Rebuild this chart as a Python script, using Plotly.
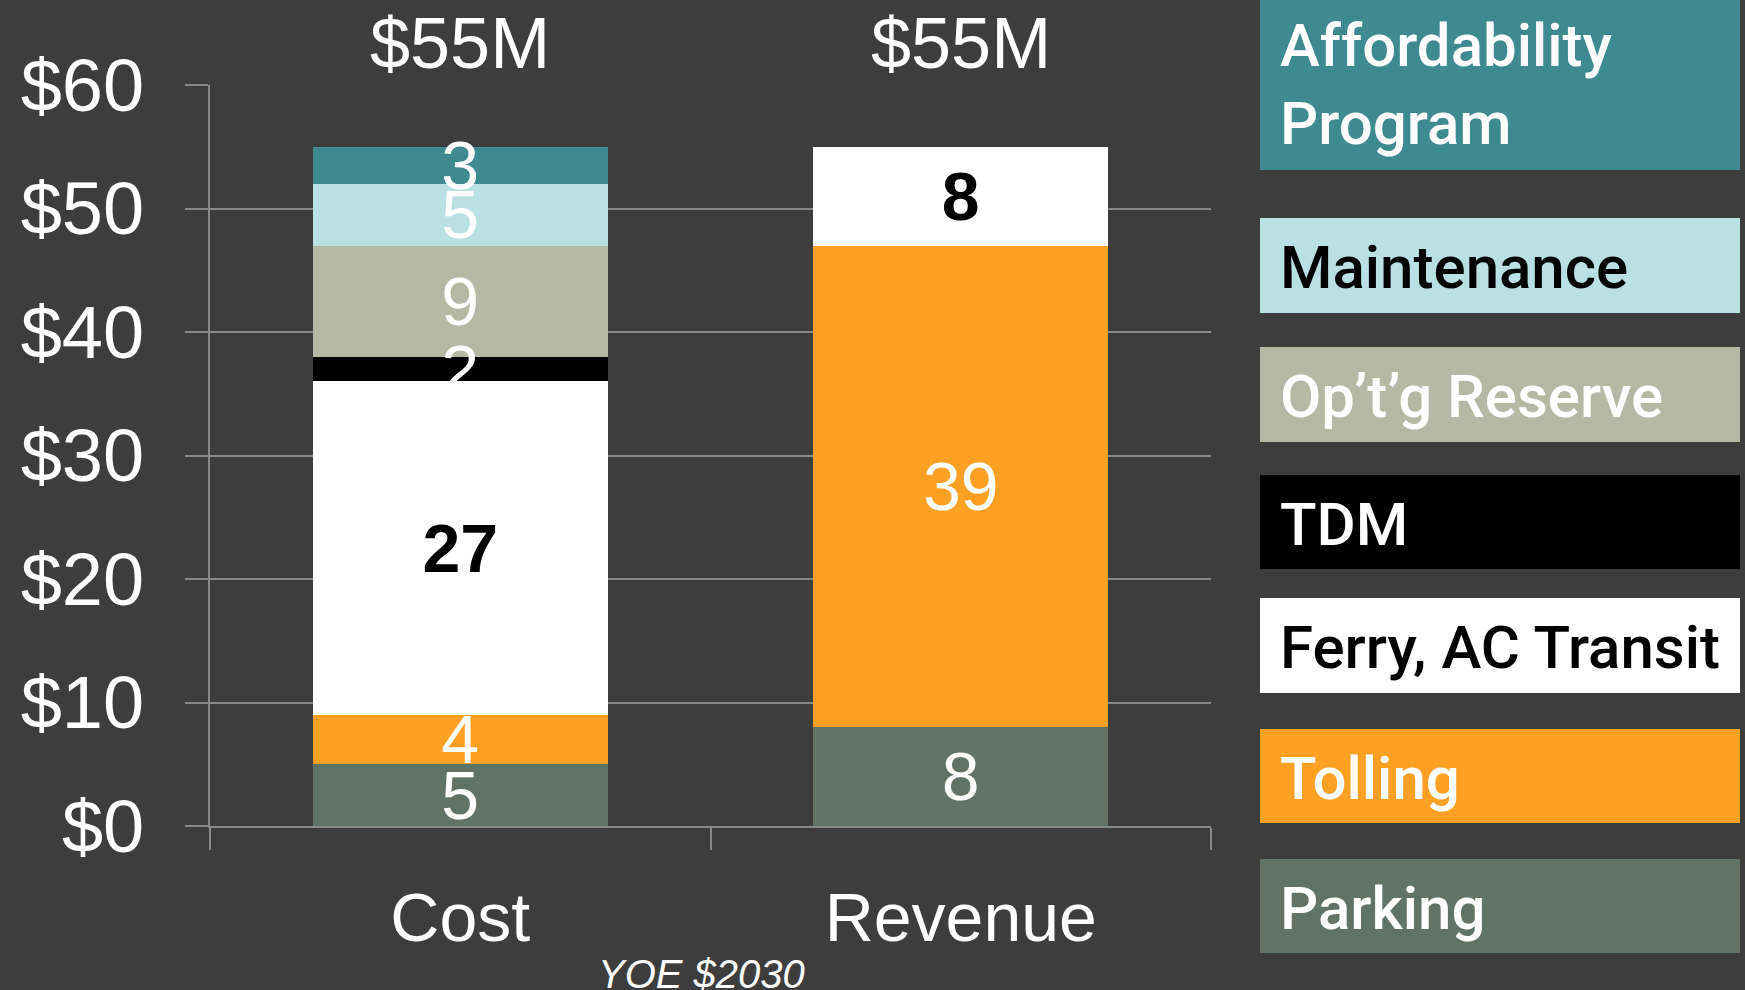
import plotly.graph_objects as go

# ── Data ──────────────────────────────────────────────────────────────────────
categories    = ["Cost", "Revenue"]
parking       = [5, 8]
tolling       = [4, 39]
ferry_ac      = [27, 8]
tdm           = [2, None]
reserve       = [9, None]
maintenance   = [5, None]
affordability = [3, None]

series_names = ["Parking", "Tolling", "Ferry, AC Transit", "TDM",
                "Op’t’g Reserve", "Maintenance", "Affordability<br>Program"]
series_vals  = [parking, tolling, ferry_ac, tdm, reserve, maintenance, affordability]

y_ticks = [0, 10, 20, 30, 40, 50, 60]
note = "YOE $2030"

# ── Styles ────────────────────────────────────────────────────────────────────
BG     = "#3d3d3d"
GRID   = "#898989"
COLORS = ["#617366", "#fda024", "#ffffff", "#000000", "#b5b8a3", "#b9e0e2", "#3e8a91"]
LABEL_COLORS  = ["white", "white", "black", "white", "white", "white", "white"]
LEGEND_COLORS = ["white", "white", "black", "white", "white", "black", "white"]
ARIAL  = "Liberation Sans, Arial, sans-serif"
LEGF   = "Roboto, Liberation Sans, sans-serif"
LABEL_DY = -0.55   # nudge segment labels slightly below centre (data units)

W, H = 1745, 990
L, R, T, B = 210, 534, 85, 164
PW, PH = W - L - R, H - T - B

def px_x(x):
    return (x - L) / PW

def px_y(y):
    return (H - B - y) / PH

# legend box pixel rows (top, bottom), from parking up to affordability
LEG_ROWS = [(859, 953), (729, 823), (598, 693), (475, 569),
            (347, 442), (218, 313), (-5, 170)]
LEG_X0, LEG_X1, LEG_TX = 1260, 1740, 1278

# ── Plot ──────────────────────────────────────────────────────────────────────
fig = go.Figure()

for name, vals, col in zip(series_names, series_vals, COLORS):
    fig.add_trace(go.Bar(
        x=categories, y=vals, name=name,
        marker=dict(color=col, line=dict(width=0)),
        hoverinfo="x+y", showlegend=False,
    ))

# segment labels on top of all bars
base = [0] * len(categories)
for vals, tcol in zip(series_vals, LABEL_COLORS):
    xs, ys, ts = [], [], []
    for i, v in enumerate(vals):
        if v is None:
            continue
        xs.append(categories[i])
        ys.append(base[i] + v / 2 + LABEL_DY)
        ts.append(str(v))
        base[i] += v
    fig.add_trace(go.Scatter(
        x=xs, y=ys, text=ts, mode="text", textposition="middle center",
        textfont=dict(family=ARIAL, size=68, color=tcol,
                      weight="bold" if tcol == "black" else "normal"),
        hoverinfo="skip", showlegend=False, cliponaxis=False,
    ))

# totals above bars
for i, cat in enumerate(categories):
    total = sum(v[i] for v in series_vals if v[i] is not None)
    fig.add_annotation(x=cat, y=px_y(43), yref="paper", text=f"${total}M",
                       showarrow=False, yanchor="middle",
                       font=dict(family=ARIAL, size=72, color="white"))

# side legend
for (top, bot), name, col, tcol in zip(LEG_ROWS, series_names, COLORS, LEGEND_COLORS):
    fig.add_shape(type="rect", xref="paper", yref="paper",
                  x0=px_x(LEG_X0), x1=px_x(LEG_X1), y0=px_y(bot), y1=px_y(top),
                  fillcolor=col, line=dict(width=0), layer="below")
    fig.add_annotation(xref="paper", yref="paper", x=px_x(LEG_TX), y=px_y((top + bot) / 2 + 2),
                       text=name, showarrow=False, xanchor="left", yanchor="middle",
                       align="left",
                       font=dict(family=LEGF, size=60, color=tcol, weight=500))

fig.add_annotation(xref="paper", yref="paper", x=px_x(701), y=px_y(974),
                   text=f"<i>{note}</i>", showarrow=False, yanchor="middle",
                   font=dict(family=ARIAL, size=40, color="white"))

fig.update_layout(
    width=W, height=H,
    margin=dict(l=L, r=R, t=T, b=B, autoexpand=False),
    paper_bgcolor=BG, plot_bgcolor=BG,
    barmode="stack", bargap=0.41,
    showlegend=False,
)
fig.update_xaxes(
    type="category", showline=True, linecolor=GRID, linewidth=2,
    ticks="outside", tickson="boundaries", ticklen=22, tickwidth=2, tickcolor=GRID,
    tickfont=dict(family=ARIAL, size=68, color="white"), ticklabelstandoff=31,
    showgrid=False,
)
fig.update_yaxes(
    range=[0, 60], tickmode="array", tickvals=y_ticks,
    ticktext=[f"${v}" for v in y_ticks],
    showgrid=True, gridcolor=GRID, gridwidth=2, zeroline=False,
    showline=True, linecolor=GRID, linewidth=2,
    ticks="outside", ticklen=23, tickwidth=2, tickcolor=GRID,
    tickfont=dict(family=ARIAL, size=74, color="white"), ticklabelstandoff=26,
)

fig.write_html("out.html", config={"displayModeBar": False},
               post_script="document.body.style.margin='0';")
